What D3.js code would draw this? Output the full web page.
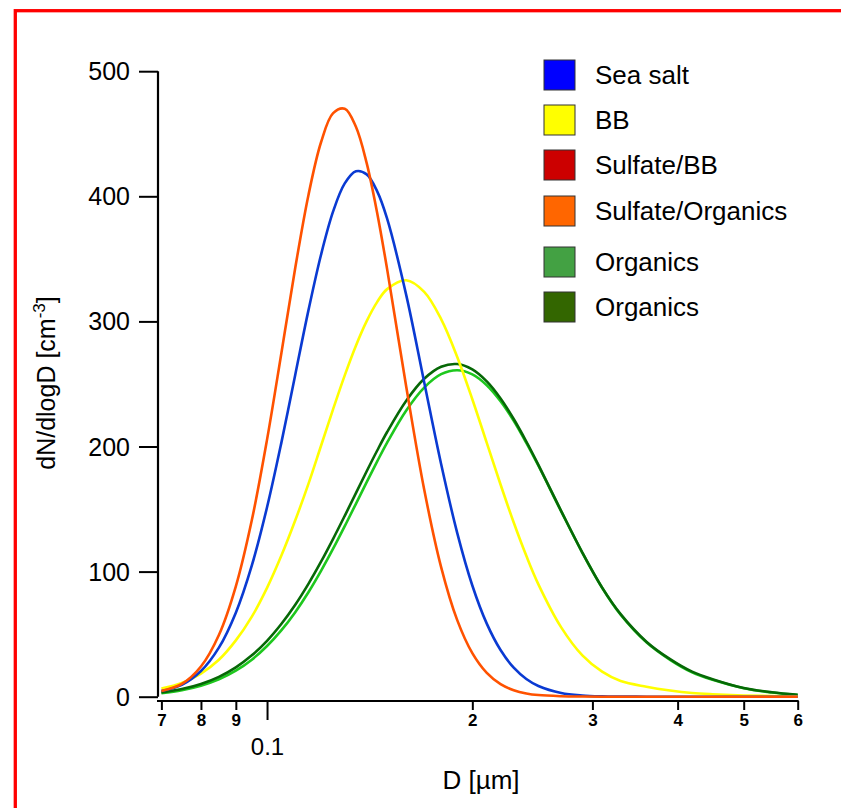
<!DOCTYPE html>
<html>
<head>
<meta charset="utf-8">
<script src="https://cdn.jsdelivr.net/npm/d3@7"></script>
<style>
  html, body { margin: 0; padding: 0; background: #fff; }
  svg { display: block; }
  text { font-family: "Liberation Sans", Arial, Helvetica, sans-serif; fill: #000; }
</style>
</head>
<body>
<svg id="chart" width="841" height="808"></svg>
<script>
// Particle diameters (µm) at which each size distribution is tabulated
const diameters = [0.070,0.075,0.080,0.085,0.090,0.095,0.100,0.105,0.110,0.115,0.120,0.125,0.130,0.135,0.140,0.145,0.150,0.160,0.170,0.180,0.190,0.200,0.210,0.220,0.230,0.240,0.250,0.270,0.290,0.310,0.330,0.360,0.390,0.420,0.450,0.500,0.550,0.600];

// dN/dlogD (cm^-3) for each aerosol type
const seaSalt = [4.5,9.5,20.5,39.2,67.2,105.0,151.4,203.5,257.4,308.8,353.3,387.9,410.3,420.0,417.5,404.1,382.1,321.0,251.4,186.0,131.2,88.9,58.4,37.3,23.2,14.2,8.6,3.0,1.0,0.3,0.1,0,0,0,0,0,0,0];
const biomassBurning = [6.5,11,18.5,29.5,45,64,87,113,141,170.1,200.6,229.9,256.9,280.6,300.2,315.4,325.8,332.9,323.6,301.8,271.8,237.8,202.9,169.6,139.2,112.6,89.8,55.4,33.0,20.0,12.5,8.0,5.0,3.0,2.0,1.0,0.5,0.3];
const sulfateOrganics = [4.5,10.2,24.1,49.3,88.2,141.2,205.5,275.2,342.9,400.9,443.2,466.5,470.0,455.6,426.5,387.1,341.8,247.8,165.6,103.6,61.4,34.8,19.0,10.0,5.2,2.6,1.3,0.4,0.1,0,0,0,0,0,0,0,0,0];
const organicsLight = [2.8,5.2,8.8,13.9,20.8,29.6,40.5,53.2,67.6,83.5,100.6,118.3,136.3,154.2,171.5,187.9,203.1,228.8,247.1,257.8,261.0,257.7,249.0,236.2,220.5,202.9,184.6,148.1,115.0,87.1,65.5,43.5,29.5,19.5,13.5,6.8,3.3,1.4];
const organicsDark = [3.4,6.1,10.2,15.9,23.5,33.1,44.7,58.3,73.5,90.2,107.9,126.2,144.6,162.7,180.2,196.6,211.6,236.6,254.1,263.7,265.9,261.6,252.0,238.4,222.0,204.0,185.3,148.4,115.2,87.2,66,44,30,20,14,7,3.5,1.5];

// Axis ticks
const yTicks = [0, 100, 200, 300, 400, 500];
const xMinorTicks = [0.07, 0.08, 0.09, 0.2, 0.3, 0.4, 0.5, 0.6];
const xMinorLabels = ["7", "8", "9", "2", "3", "4", "5", "6"];
const xMajorTicks = [0.1];
const xMajorLabels = ["0.1"];

// Legend entries
const legendNames = ["Sea salt", "BB", "Sulfate/BB", "Sulfate/Organics", "Organics", "Organics"];
const legendColors = ["#0000ff", "#ffff00", "#cc0000", "#ff6600", "#43a143", "#336600"];

const svg = d3.select("#chart");

// page frame
svg.append("rect")
  .attr("x", 15.3).attr("y", 10.7)
  .attr("width", 900).attr("height", 900)
  .attr("fill", "none").attr("stroke", "#ff0000").attr("stroke-width", 3.3);

const x = d3.scaleLog().domain([0.07, 0.6]).range([161.4, 797.7]);
const y = d3.scaleLinear().domain([0, 500]).range([696.7, 71.2]);

// curves, drawn back to front
const series = [
  { values: organicsLight, color: "#1ec81e" },
  { values: organicsDark, color: "#066806" },
  { values: biomassBurning, color: "#ffff00" },
  { values: seaSalt, color: "#0a3ad2" },
  { values: sulfateOrganics, color: "#ff5200" }
];

const line = d3.line()
  .x(d => x(d[0]))
  .y(d => y(d[1]))
  .curve(d3.curveCatmullRom.alpha(0.5));

svg.append("g").selectAll("path")
  .data(series)
  .join("path")
  .attr("d", s => line(diameters.map((D, i) => [D, s.values[i]])))
  .attr("fill", "none")
  .attr("stroke", s => s.color)
  .attr("stroke-width", 2.6)
  .attr("stroke-linejoin", "round");

// y axis
const yAxis = svg.append("g")
  .attr("transform", "translate(158,0)")
  .call(d3.axisLeft(y).tickValues(yTicks).tickSize(19).tickPadding(9).tickFormat(d3.format("d")));
yAxis.select(".domain").attr("d", `M0,${y(500)}V${y(0)}`).attr("stroke", "#000").attr("stroke-width", 2.2);
yAxis.selectAll(".tick line").attr("stroke", "#000").attr("stroke-width", 2);
yAxis.selectAll(".tick text")
  .style("font-family", '"Liberation Sans", Arial, sans-serif')
  .style("font-size", "25px").attr("fill", "#000").attr("dy", "0.34em");

// x axis: minor ticks with single-digit labels
const xAxisY = 701;
const xMinor = svg.append("g")
  .attr("transform", `translate(0,${xAxisY})`)
  .call(d3.axisBottom(x).tickValues(xMinorTicks).tickSize(9).tickPadding(10)
    .tickFormat((d, i) => xMinorLabels[i]));
xMinor.select(".domain").attr("d", `M157,0H${x(0.6) + 1}`).attr("stroke", "#000").attr("stroke-width", 2.2);
xMinor.selectAll(".tick line").attr("stroke", "#000").attr("stroke-width", 2);
xMinor.selectAll(".tick text")
  .style("font-family", '"Liberation Sans", Arial, sans-serif')
  .style("font-size", "17px").style("font-weight", "bold").attr("fill", "#000")
  .attr("y", 25).attr("dy", 0);

// x axis: decade tick
const xMajor = svg.append("g")
  .attr("transform", `translate(0,${xAxisY})`)
  .call(d3.axisBottom(x).tickValues(xMajorTicks).tickSize(19).tickPadding(10)
    .tickFormat((d, i) => xMajorLabels[i]));
xMajor.select(".domain").remove();
xMajor.selectAll(".tick line").attr("stroke", "#000").attr("stroke-width", 2);
xMajor.selectAll(".tick text")
  .style("font-family", '"Liberation Sans", Arial, sans-serif')
  .style("font-size", "24px").attr("fill", "#000")
  .attr("y", 54).attr("dy", 0);

// axis titles
svg.append("text")
  .attr("x", 481).attr("y", 789)
  .attr("text-anchor", "middle")
  .style("font-size", "26px")
  .text("D [µm]");

const yTitle = svg.append("text")
  .attr("transform", "translate(55,383) rotate(-90)")
  .attr("text-anchor", "middle")
  .style("font-size", "25px");
yTitle.append("tspan").text("dN/dlogD [cm");
yTitle.append("tspan").attr("dy", -10).style("font-size", "17px").text("-3");
yTitle.append("tspan").attr("dy", 10).text("]");

// legend
const legend = svg.append("g");
const rowY = [75, 120, 165, 211, 262, 307];
const rows = legend.selectAll("g")
  .data(legendNames)
  .join("g")
  .attr("transform", (d, i) => `translate(544,${rowY[i]})`);
rows.append("rect")
  .attr("x", 0).attr("y", -15)
  .attr("width", 31).attr("height", 30)
  .attr("fill", (d, i) => legendColors[i])
  .attr("stroke", "#333").attr("stroke-width", 1);
rows.append("text")
  .attr("x", 51).attr("y", 0).attr("dy", "0.36em")
  .style("font-size", "26px")
  .text(d => d);
</script>
</body>
</html>
